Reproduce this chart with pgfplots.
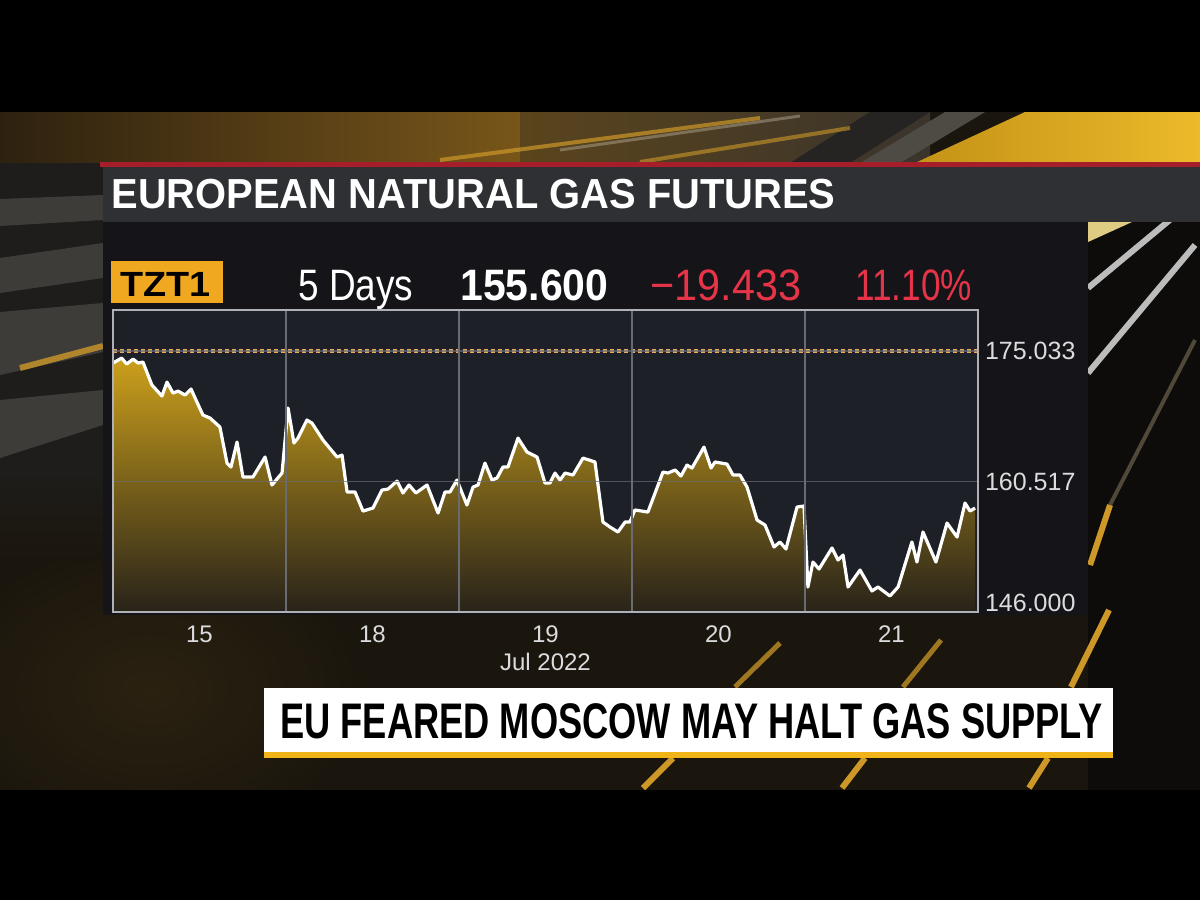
\documentclass[border=0pt]{standalone}
\usepackage{graphicx}
\usepackage{pgfplots}
\pgfplotsset{compat=1.18}
\usepackage{pgfplotstable}
\usepackage{fontspec}
\setmainfont{Liberation Sans}
\newcommand\fs[1]{\fontsize{#1}{#1}\selectfont}
\definecolor{plotbg}{RGB}{30,32,40}
\definecolor{panelbg}{RGB}{21,21,25}
\definecolor{titlebg}{RGB}{46,48,52}
\definecolor{barred}{RGB}{165,30,42}
\definecolor{bbred}{RGB}{232,52,72}
\definecolor{bborange}{RGB}{240,168,32}
\definecolor{gridc}{RGB}{105,107,114}
\definecolor{axisc}{RGB}{175,177,182}
\definecolor{dotc}{RGB}{232,172,92}
\definecolor{goldtop}{RGB}{204,160,28}
\definecolor{goldmid}{RGB}{120,96,26}
\definecolor{golddark}{RGB}{40,35,26}
\definecolor{ticklc}{RGB}{220,220,222}
\definecolor{bgbrown}{RGB}{27,22,13}
\definecolor{leftgrey}{RGB}{62,60,57}
\definecolor{leftdark}{RGB}{30,29,27}
\definecolor{streak}{RGB}{205,152,40}
\definecolor{banneryel}{RGB}{240,180,24}
\definecolor{tb1}{RGB}{45,33,16}
\definecolor{tb2}{RGB}{120,86,26}
\definecolor{tb3}{RGB}{90,68,28}
\definecolor{tb4}{RGB}{58,52,44}
\definecolor{tbdark}{RGB}{38,36,34}
\definecolor{tbgrey}{RGB}{78,74,68}
\definecolor{yelA}{RGB}{196,146,22}
\definecolor{yelB}{RGB}{236,186,42}
\definecolor{palestreak}{RGB}{200,190,170}
\definecolor{rightbg}{RGB}{14,12,10}
\definecolor{paleyel}{RGB}{222,204,130}
\definecolor{wline}{RGB}{188,188,188}
\definecolor{fline}{RGB}{80,72,56}
\definecolor{glow}{RGB}{42,33,16}

\pgfplotstableread{
x y
0.000 173.70
0.050 174.25
0.079 173.59
0.116 174.14
0.145 173.70
0.173 173.81
0.225 171.25
0.283 170.03
0.312 171.58
0.347 170.36
0.376 170.58
0.416 170.14
0.451 170.81
0.480 169.58
0.520 167.91
0.561 167.58
0.618 166.58
0.659 162.57
0.682 162.13
0.717 164.91
0.751 161.02
0.809 161.02
0.879 163.24
0.919 160.13
0.977 161.46
1.012 168.69
1.046 164.80
1.069 165.35
1.121 167.36
1.150 167.02
1.214 165.13
1.295 163.24
1.324 163.46
1.353 159.35
1.399 159.35
1.445 157.23
1.503 157.57
1.555 159.57
1.590 159.68
1.642 160.57
1.676 159.24
1.711 160.13
1.751 159.24
1.815 160.13
1.879 157.01
1.919 159.35
1.948 159.35
1.988 160.68
2.046 157.90
2.081 159.90
2.110 160.13
2.150 162.57
2.191 160.68
2.220 160.91
2.254 162.13
2.283 162.13
2.341 165.35
2.393 163.80
2.451 163.24
2.497 160.35
2.526 160.35
2.555 161.46
2.584 160.68
2.613 161.46
2.659 161.24
2.717 163.13
2.786 162.69
2.832 156.01
2.873 155.45
2.919 154.90
2.960 156.01
2.988 156.01
3.017 157.35
3.092 157.12
3.179 161.57
3.208 161.46
3.249 161.80
3.283 161.13
3.318 162.35
3.347 162.02
3.416 164.35
3.457 162.02
3.480 162.69
3.549 162.46
3.584 161.24
3.624 161.24
3.665 159.90
3.723 156.23
3.769 155.68
3.821 153.23
3.855 153.79
3.890 153.01
3.954 157.68
3.994 157.79
4.017 148.78
4.046 151.56
4.081 150.78
4.156 153.12
4.191 151.78
4.220 152.34
4.249 148.78
4.318 150.67
4.387 148.34
4.422 148.78
4.491 147.78
4.538 148.78
4.618 153.79
4.647 151.56
4.682 154.90
4.757 151.56
4.821 155.90
4.879 154.34
4.925 158.12
4.954 157.23
4.983 157.57
}\gasdata

\begin{document}
\begin{tikzpicture}
\begin{scope}[x=0.5pt,y=-0.5pt]
\useasboundingbox (0,0) rectangle (1200,900);
\fill[black] (0,0) rectangle (1200,900);
% middle band
\fill[bgbrown] (0,112) rectangle (1200,790);
\shade[inner color=glow, outer color=bgbrown] (-60,540) rectangle (360,840);
% top band
\shade[left color=tb1, right color=tb2] (0,112) rectangle (520,163);
\shade[left color=tb3, right color=tb4] (520,112) rectangle (930,163);
\fill[tbdark] (790,163) -- (870,112) -- (930,112) -- (850,163) -- cycle;
\fill[tbgrey] (860,163) -- (945,112) -- (985,112) -- (900,163) -- cycle;
\shade[left color=yelA, right color=yelB] (915,163) -- (1025,112) -- (1200,112) -- (1200,163) -- cycle;
\draw[line width=2, draw=streak, opacity=0.7] (440,160) -- (760,118);
\draw[line width=2, draw=streak, opacity=0.6] (640,162) -- (850,128);
\draw[line width=1.5, draw=palestreak, opacity=0.4] (560,150) -- (800,116);
% left side stripes
\fill[leftdark] (0,163) rectangle (103,470);
\fill[leftgrey] (0,199) -- (103,195) -- (103,220) -- (0,226) -- cycle;
\fill[leftgrey] (0,258) -- (103,243) -- (103,278) -- (0,293) -- cycle;
\fill[leftgrey] (0,312) -- (103,303) -- (103,352) -- (0,375) -- cycle;
\draw[line width=3, draw=streak, opacity=0.8] (20,368) -- (103,346);
\fill[leftgrey] (0,400) -- (103,390) -- (103,425) -- (0,458) -- cycle;
\shade[top color=leftdark, bottom color=bgbrown] (0,470) rectangle (103,560);
% right side
\fill[rightbg] (1088,222) rectangle (1200,790);
\fill[paleyel] (1088,222) -- (1132,222) -- (1088,242) -- cycle;
\draw[line width=3, draw=wline] (1177,214) -- (1088,288);
\draw[line width=3, draw=wline] (1195,245) -- (1088,373);
\draw[line width=2, draw=fline] (1195,340) -- (1110,505);
\draw[line width=3, draw=streak] (1110,505) -- (1090,565);
% bottom streaks
\draw[line width=2.5, draw=streak, opacity=0.75] (780,643) -- (735,687);
\draw[line width=2.5, draw=streak, opacity=0.75] (941,640) -- (903,687);
\draw[line width=3, draw=streak] (1109,610) -- (1071,687);
\draw[line width=3, draw=streak] (673,758) -- (643,788);
\draw[line width=3, draw=streak] (865,758) -- (842,788);
\draw[line width=3, draw=streak] (1048,758) -- (1029,788);
% black bands again (cover glow overflow)
\fill[black] (0,790) rectangle (1200,900);
% title bar and panel
\fill[barred] (100,162) rectangle (1200,167);
\fill[titlebg] (103,167) rectangle (1200,222);
\fill[panelbg] (103,222) rectangle (1088,615);
\node[anchor=base west, inner sep=0, text=white] at (111,208) {\fs{21}\bfseries\scalebox{0.95}[1]{EUROPEAN NATURAL GAS FUTURES}};
% header row
\fill[bborange] (111,261) rectangle (223,303);
\node[anchor=base west, inner sep=0, text=black] at (120,296) {\fs{17.5}\bfseries\scalebox{1.08}[1]{TZT1}};
\node[anchor=base west, inner sep=0, text=white] at (298,300) {\fs{22}\scalebox{0.84}[1]{5 Days}};
\node[anchor=base west, inner sep=0, text=white] at (460,300) {\fs{22}\bfseries\scalebox{0.93}[1]{155.600}};
\node[anchor=base west, inner sep=0, text=bbred] at (650,300) {\fs{22}\scalebox{0.94}[1]{−19.433}};
\node[anchor=base west, inner sep=0, text=bbred] at (855,300) {\fs{22}\scalebox{0.80}[1]{11.10\%}};
% banner
\fill[white] (264,688) rectangle (1113,752);
\fill[banneryel] (264,752) rectangle (1113,758);
\node[anchor=base west, inner sep=0, text=black] at (280,738) {\fs{25}\bfseries\scalebox{0.725}[1]{EU FEARED MOSCOW MAY HALT GAS SUPPLY}};
\end{scope}
\begin{axis}[
  at={(56.5pt,-306pt)}, anchor=south west,
  width=432.5pt, height=151pt, scale only axis,
  xmin=0, xmax=5, ymin=146, ymax=179.6,
  axis background/.style={fill=plotbg},
  axis line style={draw=axisc, line width=1.3pt},
  axis on top,
  xtick={0.5,1.5,2.5,3.5,4.5}, xticklabels={15,18,19,20,21},
  minor xtick={1,2,3,4}, xminorgrids,
  minor grid style={draw=gridc, line width=0.7pt},
  ytick={175.033,160.517}, yticklabels={175.033,160.517},
  ymajorgrids, major grid style={draw=gridc, line width=0.6pt, opacity=0.7},
  extra y ticks={146}, extra y tick labels={146.000},
  extra y tick style={yticklabel style={yshift=4.5pt}, grid=none},
  yticklabel pos=right,
  major tick length=0pt, minor tick length=0pt,
  tick style={draw=none},
  /pgf/number format/assume math mode=true,
  ticklabel style={text=ticklc},
  yticklabel style={font=\fs{12.5}, anchor=west, xshift=0pt},
  xticklabel style={font=\fs{12}, yshift=-3.5pt},
  xlabel={Jul 2022},
  xlabel style={font=\fs{12}, text=ticklc, at={(axis description cs:0.5,0)}, anchor=base, yshift=-29pt},
]
\addplot[draw=none, top color=goldtop, bottom color=golddark, middle color=goldmid, forget plot] table[x=x, y=y] {\gasdata} -- (axis cs:4.983,146) -- (axis cs:0,146) -- cycle;
\addplot[white, line width=1.6pt, line join=round, mark=none] table[x=x, y=y] {\gasdata};
\addplot[dotc, line width=2pt, dash pattern=on 2pt off 1.5pt, mark=none] coordinates {(0,175.033) (5,175.033)};
\end{axis}
\end{tikzpicture}
\end{document}
